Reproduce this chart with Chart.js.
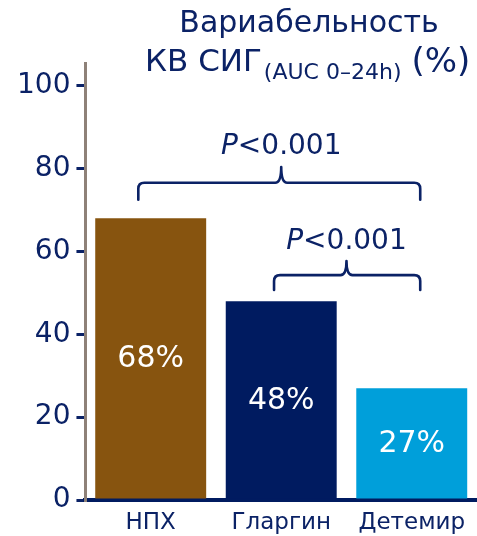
<!DOCTYPE html>
<html>
<head>
<meta charset="utf-8">
<script src="https://cdn.jsdelivr.net/npm/chart.js@4"></script>
<style>
  html, body { margin: 0; padding: 0; background: #ffffff; }
  #wrap { width: 477px; height: 536px; position: relative; }
</style>
</head>
<body>
<div id="wrap"><canvas id="c"></canvas></div>
<script>
// Coefficient of variation of interstitial glucose (AUC 0–24h), %
const categories = ['НПХ', 'Гларгин', 'Детемир'];
const cvValues = [68, 48, 27];
const barColors = ['#87540f', '#001b60', '#009fda'];
const yTicks = [0, 20, 40, 60, 80, 100];
const pLabels = ['P<0.001', 'P<0.001'];

const NAVY = '#0b2266';
const FONT = '"DejaVu Sans", Verdana, sans-serif';

// Significance brackets: category span and heights in value units
const brackets = [
  { from: -0.095, to: 2.065, tip: 1.0, legs: 72.5, bar: 76.6, peak: 80.4, text: 85.3, label: pLabels[0] },
  { from: 0.945, to: 2.065, tip: 1.5, legs: 50.7, bar: 54.3, peak: 57.7, text: 62.3, label: pLabels[1] }
];

const titlePlugin = {
  id: 'titleText',
  afterDraw(chart) {
    const ctx = chart.ctx;
    ctx.save();
    ctx.fillStyle = NAVY;
    ctx.textBaseline = 'alphabetic';
    ctx.font = '30px ' + FONT;
    ctx.textAlign = 'center';
    ctx.fillText('Вариабельность', 309, 32);
    ctx.textAlign = 'left';
    let x = 145;
    const main = 'КВ СИГ';
    ctx.font = '31px ' + FONT;
    ctx.fillText(main, x, 71);
    x += ctx.measureText(main).width;
    ctx.font = '22px ' + FONT;
    const sub = '(AUC 0–24h)';
    ctx.fillText(sub, x + 2, 79);
    x += ctx.measureText(sub).width + 2;
    ctx.font = '34px ' + FONT;
    ctx.fillText('(%)', x + 10, 72);
    ctx.restore();
  }
};

const barLabelPlugin = {
  id: 'barLabels',
  afterDatasetsDraw(chart) {
    const ctx = chart.ctx;
    const meta = chart.getDatasetMeta(0);
    ctx.save();
    ctx.fillStyle = '#ffffff';
    ctx.font = '30px ' + FONT;
    ctx.textAlign = 'center';
    ctx.textBaseline = 'middle';
    meta.data.forEach((bar, i) => {
      const v = chart.data.datasets[0].data[i];
      ctx.fillText(v + '%', bar.x, (bar.y + bar.base) / 2 + 1);
    });
    ctx.restore();
  }
};

const bracketPlugin = {
  id: 'brackets',
  afterDraw(chart) {
    const xs = chart.scales.x, ys = chart.scales.y;
    const ctx = chart.ctx;
    ctx.save();
    ctx.strokeStyle = NAVY;
    ctx.lineWidth = 2.6;
    ctx.lineCap = 'round';
    ctx.lineJoin = 'round';
    brackets.forEach(b => {
      const x1 = xs.getPixelForValue(b.from);
      const x2 = xs.getPixelForValue(b.to);
      const xm = xs.getPixelForValue(b.tip);
      const yl = ys.getPixelForValue(b.legs);
      const yh = ys.getPixelForValue(b.bar);
      const yp = ys.getPixelForValue(b.peak);
      const r = 6;
      ctx.beginPath();
      ctx.moveTo(x1, yl);
      ctx.lineTo(x1, yh + r);
      ctx.quadraticCurveTo(x1, yh, x1 + r, yh);
      ctx.lineTo(xm - r, yh);
      ctx.quadraticCurveTo(xm, yh, xm, yp);
      ctx.quadraticCurveTo(xm, yh, xm + r, yh);
      ctx.lineTo(x2 - r, yh);
      ctx.quadraticCurveTo(x2, yh, x2, yh + r);
      ctx.lineTo(x2, yl);
      ctx.stroke();

      // label: italic P followed by the rest
      const yt = ys.getPixelForValue(b.text);
      const head = b.label.charAt(0);
      const rest = b.label.slice(1);
      ctx.fillStyle = NAVY;
      ctx.textBaseline = 'middle';
      ctx.font = 'italic 28px ' + FONT;
      const w1 = ctx.measureText(head).width;
      ctx.font = '28px ' + FONT;
      const w2 = ctx.measureText(rest).width;
      const start = xm - (w1 + w2) / 2;
      ctx.textAlign = 'left';
      ctx.font = 'italic 28px ' + FONT;
      ctx.fillText(head, start, yt);
      ctx.font = '28px ' + FONT;
      ctx.fillText(rest, start + w1, yt);
    });
    ctx.restore();
  }
};

new Chart(document.getElementById('c'), {
  type: 'bar',
  data: {
    labels: categories,
    datasets: [{
      data: cvValues,
      backgroundColor: barColors,
      borderWidth: 0,
      barPercentage: 0.85,
      categoryPercentage: 1.0
    }]
  },
  options: {
    responsive: true,
    maintainAspectRatio: false,
    animation: false,
    devicePixelRatio: 1,
    layout: { padding: { top: 63, left: 11, right: 0, bottom: 0 } },
    plugins: {
      legend: { display: false },
      title: { display: false },
      tooltip: { enabled: false }
    },
    scales: {
      x: {
        offset: true,
        afterFit(scale) { scale.height = 36; },
        grid: { display: false, drawTicks: false },
        border: { display: true, color: '#001b60', width: 4 },
        ticks: {
          color: NAVY,
          padding: 9,
          font: { family: FONT, size: 23 }
        }
      },
      y: {
        min: 0,
        max: 105.5,
        afterBuildTicks(scale) {
          scale.ticks = yTicks.map(v => ({ value: v }));
        },
        grid: {
          display: true,
          drawOnChartArea: false,
          drawTicks: true,
          tickLength: 9,
          color: NAVY,
          lineWidth: 3
        },
        border: { display: true, color: '#8e8178', width: 3 },
        ticks: {
          color: NAVY,
          padding: 6,
          font: { family: FONT, size: 28 }
        }
      }
    }
  },
  plugins: [titlePlugin, barLabelPlugin, bracketPlugin]
});
</script>
</body>
</html>
